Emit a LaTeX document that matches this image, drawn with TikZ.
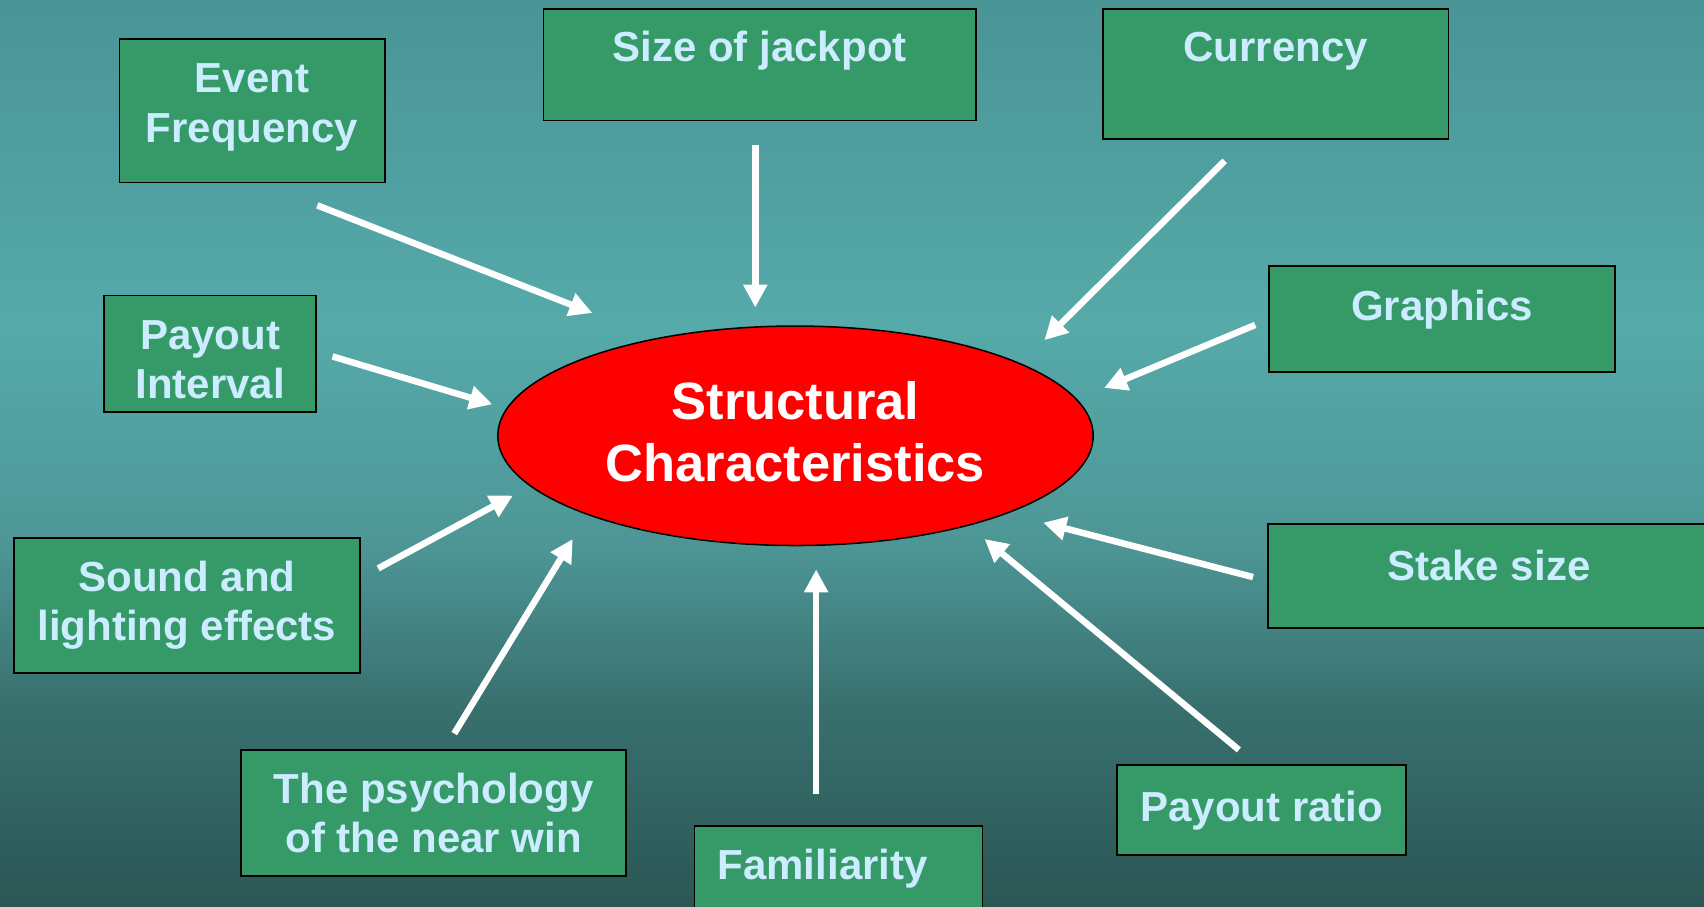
\documentclass[tikz,border=0pt]{standalone}
\usepackage{fontspec}
\setmainfont{Liberation Sans}
\usetikzlibrary{shapes.geometric,arrows.meta}

\definecolor{boxgreen}{RGB}{54,153,104}
\definecolor{boxtext}{RGB}{204,236,255}
\definecolor{bgtop}{RGB}{74,148,150}
\definecolor{bglight}{RGB}{86,170,170}
\definecolor{bgmid}{RGB}{78,150,150}
\definecolor{bglow}{RGB}{56,112,110}
\definecolor{bgbottom}{RGB}{43,86,84}

\pgfdeclareverticalshading{slide}{100bp}{color(0bp)=(bgbottom); color(25bp)=(bgbottom); color(36bp)=(bglow); color(45bp)=(bgmid); color(57bp)=(bglight); color(75bp)=(bgtop); color(100bp)=(bgtop)}

\tikzset{
	factor/.style={draw=black, line width=0.9pt, fill=boxgreen, text=boxtext, font=\fontsize{22}{26}\selectfont\bfseries, align=center, inner sep=0pt},
	factortext/.style={text=boxtext, font=\fontsize{22}{26}\selectfont\bfseries, align=center, inner sep=0pt},
	core/.style={ellipse, draw=black, line width=0.8pt, fill=red, text=white, font=\fontsize{27.5}{32.3}\selectfont\bfseries, align=center, inner sep=0pt},
	arr/.style={white, line width=3.4pt, -{Triangle[length=12pt,width=12pt]}}
}

\begin{document}
\begin{tikzpicture}[x=0.02cm,y=-0.02cm]
	%========
	%Background
	%========
	\clip (0,0) rectangle (1568,834);
	\shade[shading=slide] (0,0) rectangle (1568,834);

	%========
	%Centre
	%========
	\node[core, minimum width=10.96cm, minimum height=4.04cm] (sc) at (732,401) {};
	\node[core, draw=none, fill=none] (sctxt) at (732,397) {Structural\\Characteristics};

	%========
	%Factors
	%========
	\node[factor, minimum width=4.88cm, minimum height=2.64cm] (evt) at (232,102) {};
	\node[factortext] (evttxt) at (232,99) {Event\\Frequency};
	\node[factor, minimum width=7.96cm, minimum height=2.06cm] (jack) at (699,59.5) {};
	\node[factortext] (jacktxt) at (699,47) {Size of jackpot};
	\node[factor, minimum width=6.36cm, minimum height=2.4cm] (cur) at (1174,68) {};
	\node[factortext] (curtxt) at (1174,47) {Currency};
	\node[factor, minimum width=6.36cm, minimum height=1.94cm] (gfx) at (1327,293.5) {};
	\node[factortext] (gfxtxt) at (1327,285) {Graphics};
	\node[factor, minimum width=3.9cm, minimum height=2.14cm] (pint) at (193.5,325.5) {};
	\node[factortext] (pinttxt) at (193.5,331) {Payout\\Interval};
	\node[factor, minimum width=6.36cm, minimum height=2.48cm] (snd) at (172,557) {Sound and\\lighting effects};
	\node[factor, minimum width=7.08cm, minimum height=2.32cm] (psy) at (399,748) {The psychology\\of the near win};
	\node[factor, minimum width=5.3cm, minimum height=2.4cm] (fam) at (771.5,820) {};
	\node[factortext] (famtxt) at (757,799) {Familiarity};
	\node[factor, minimum width=5.32cm, minimum height=1.66cm] (pratio) at (1161,745.5) {Payout ratio};
	\node[factor, minimum width=8.12cm, minimum height=1.92cm] (stake) at (1370,530) {};
	\node[factortext] (staketxt) at (1370,520) {Stake size};

	%========
	%Arrows
	%========
	\coordinate (evt tail) at (292,189);	\coordinate (evt head) at (545,288);
	\coordinate (jack tail) at (695,133);	\coordinate (jack head) at (695,283);
	\coordinate (cur tail) at (1127,148);	\coordinate (cur head) at (961,313);
	\coordinate (gfx tail) at (1155,299);	\coordinate (gfx head) at (1016,357);
	\coordinate (pint tail) at (306,328);	\coordinate (pint head) at (453,372);
	\coordinate (snd tail) at (348,523);	\coordinate (snd head) at (472,456);
	\coordinate (psy tail) at (418,675);	\coordinate (psy head) at (527,496);
	\coordinate (fam tail) at (751,731);	\coordinate (fam head) at (751,524);
	\coordinate (pratio tail) at (1140,690);	\coordinate (pratio head) at (906,496);
	\coordinate (stake tail) at (1153,531);	\coordinate (stake head) at (960,481);

	\foreach \f in {evt,jack,cur,gfx,pint,snd,psy,fam,pratio,stake}
		\draw[arr] (\f\space tail) -- (\f\space head);
\end{tikzpicture}
\end{document}
